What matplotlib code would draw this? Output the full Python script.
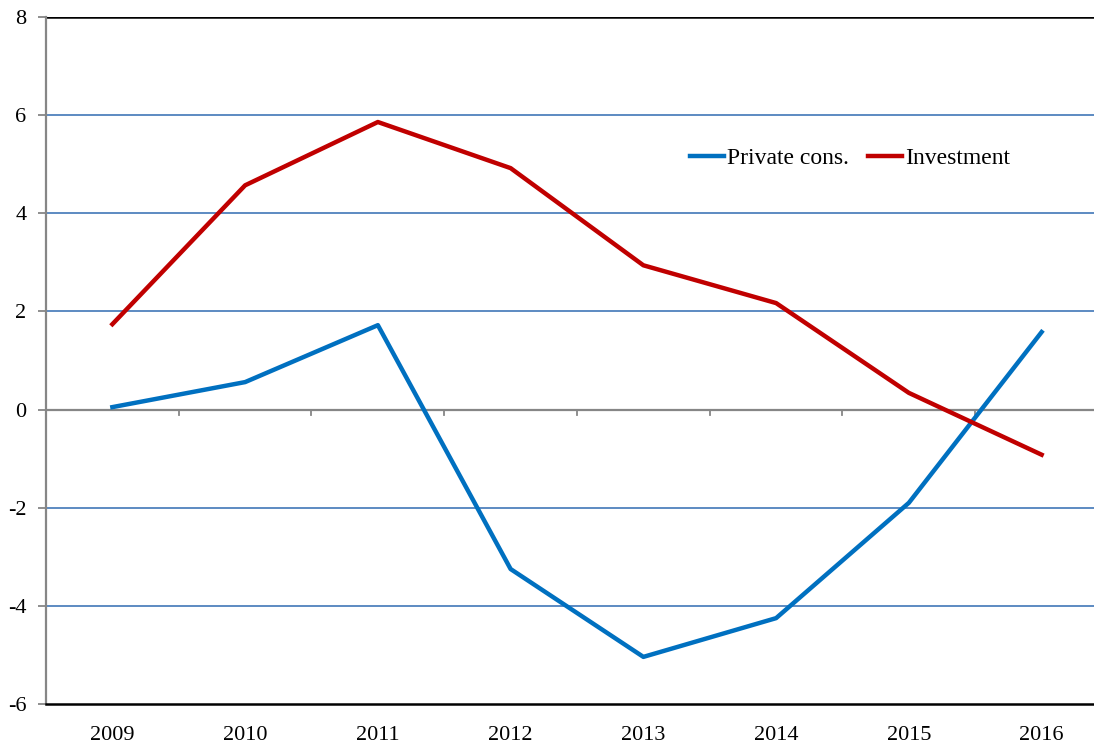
import matplotlib
matplotlib.use("Agg")
import matplotlib.pyplot as plt

years = ["2009", "2010", "2011", "2012", "2013", "2014", "2015", "2016"]
private_cons = [0.05, 0.56, 1.72, -3.25, -5.04, -4.25, -1.90, 1.58]
investment = [1.74, 4.57, 5.86, 4.92, 2.94, 2.17, 0.34, -0.92]
y_ticks = [-6, -4, -2, 0, 2, 4, 6, 8]

plt.rcParams["font.family"] = ["Liberation Serif", "DejaVu Serif"]

fig = plt.figure(figsize=(10.94, 7.49), dpi=100)
# axes run a little past the right edge of the figure
ax = fig.add_axes([46 / 1094, 45 / 749, 1062 / 1094, 687 / 749])

x = list(range(len(years)))

# horizontal grid
for v in y_ticks:
    if v in (0, -6):
        continue
    color = "black" if v == 8 else "#4F81BD"
    ax.axhline(v, color=color, lw=1.8 if v == 8 else 1.3, zorder=1)
ax.axhline(0, color="#868686", lw=1.6, zorder=1)

# small ticks on the zero line between categories
for b in range(1, len(years)):
    ax.plot([b - 0.5, b - 0.5], [0, -0.11], color="#868686", lw=1.3, zorder=1)

ax.plot(x, private_cons, color="#0070C0", lw=3.2, label="Private cons.", zorder=3)
ax.plot(x, investment, color="#C00000", lw=3.2, label="Investment", zorder=3)

ax.set_xlim(-0.5, len(years) - 0.5)
ax.set_ylim(-6, 8)
ax.set_yticks(y_ticks)
ax.set_yticklabels([str(v) for v in y_ticks], fontsize=16)
ax.set_xticks(x)
ax.set_xticklabels(years, fontsize=16)
ax.tick_params(axis="x", length=0, pad=16)
ax.tick_params(axis="y", length=6, width=1.3, color="#868686", pad=8)

for side in ("top", "right"):
    ax.spines[side].set_visible(False)
ax.spines["left"].set_color("#868686")
ax.spines["left"].set_linewidth(1.6)
ax.spines["bottom"].set_color("black")
ax.spines["bottom"].set_linewidth(1.8)

fig.legend(loc="center left", bbox_to_anchor=(690 / 1094, 1 - 158 / 749), ncol=2,
           frameon=False, fontsize=17, handlelength=1.45, handletextpad=0.12,
           columnspacing=0.8, borderpad=0, borderaxespad=0)

fig.savefig("out.png", dpi=100)
